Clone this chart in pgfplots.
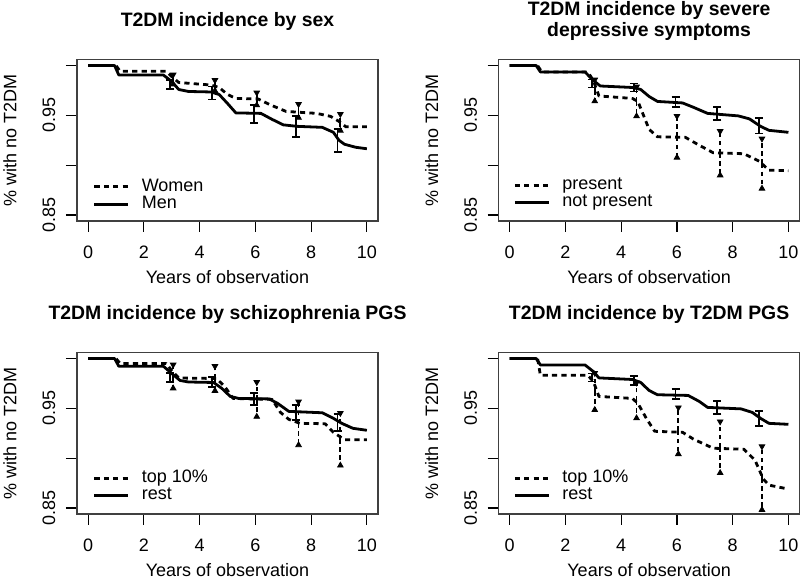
\documentclass[border=0pt]{standalone}
\usepackage{fontspec}
\setmainfont{Liberation Sans}
\usepackage{pgfplots}
\pgfplotsset{compat=1.18}

\pgfplotsset{
  km/.style={
    scale only axis, width=150.5pt, height=80.7pt,
    xmin=-0.4, xmax=10.4, ymin=0.844, ymax=1.006,
    xtick={0,2,4,6,8,10}, xticklabels={0,2,4,6,8,10},
    ytick={0.85,0.90,0.95,1.00}, yticklabels={0.85,,0.95,},
    tick align=outside, tick pos=left, major tick length=5.5pt,
    axis line style={black!75, line width=0.75pt},
    tick style={black, line width=0.6pt},
    font=\fontsize{9}{10}\selectfont,
    xticklabel style={anchor=center, yshift=-10pt},
    yticklabel style={rotate=90, anchor=center, yshift=8.5pt},
    xlabel={Years of observation}, ylabel={\% with no T2DM},
    xlabel style={at={(axis description cs:0.5,-0.346)}, anchor=center},
    ylabel style={at={(axis description cs:-0.2226,0.5)}, anchor=center},
    title style={font=\fontsize{9.7}{10.8}\selectfont\bfseries, at={(0.5,1)},
      anchor=center, yshift=13.3pt, align=center},
    legend style={draw=none, fill=none, anchor=west, inner sep=0pt,
      row sep=-2.8pt, font=\fontsize{9}{10}\selectfont,
      /tikz/every odd column/.append style={column sep=4pt}},
    legend cell align=left,
    legend image code/.code={\draw[#1] (0pt,0pt) -- (17pt,0pt);},
  },
  dsh/.style={black, line width=1.4pt, dash pattern=on 2.6pt off 2.1pt, line join=round},
  sld/.style={black, line width=1.4pt, line join=round},
  ebd/.style={forget plot, draw=none, mark=none,
    error bars/.cd, y dir=both, y explicit,
    error bar style={draw=black, line width=0.9pt, dash pattern=on 2.2pt off 1.8pt},
    error mark=triangle*, error mark options={draw=black, fill=black, solid, mark size=1.6pt, rotate=90}},
  ebs/.style={forget plot, draw=none, mark=none,
    error bars/.cd, y dir=both, y explicit,
    error bar style={draw=black, line width=0.9pt},
    error mark options={draw=black, mark size=2pt, line width=0.9pt, rotate=90}},
}

\begin{document}
\begin{tikzpicture}
\path[use as bounding box] (0,0) rectangle (400pt,289pt);

% sex
\begin{axis}[km, at={(38.5pt,178.5pt)}, anchor=south west,
  title={T2DM incidence by sex},
  legend style={at={(axis cs:0.16,0.8697)}}]
\addplot[dsh] coordinates {(0,1) (1.0,1) (1.15,0.9942) (2.8,0.9942) (3.0,0.989) (3.25,0.983)
  (4.4,0.9805) (4.7,0.978) (5.0,0.971) (5.3,0.967) (6.1,0.9665) (6.5,0.961) (7.1,0.954)
  (8.2,0.952) (8.7,0.949) (9.0,0.944) (9.25,0.9385) (10,0.9385)};
\addlegendentry{Women}
\addplot[sld] coordinates {(0,1) (0.95,1) (1.1,0.9905) (2.7,0.9905) (3.0,0.984) (3.25,0.976)
  (3.6,0.974) (4.4,0.9735) (4.7,0.971) (5.0,0.962) (5.3,0.9525) (6.2,0.952) (6.6,0.946)
  (7.0,0.9405) (7.5,0.939) (8.4,0.938) (8.8,0.933) (9.0,0.925) (9.2,0.921) (9.6,0.918) (10,0.9165)};
\addlegendentry{Men}
\addplot[ebd] coordinates {(3.05,0.986) +- (0,0.004) (4.55,0.980) +- (0,0.0045)
  (6.05,0.9665) +- (0,0.0055) (7.55,0.9545) +- (0,0.006) (9.05,0.943) +- (0,0.0075)};
\addplot[ebs] coordinates {(2.95,0.981) +- (0,0.0045) (4.45,0.9725) +- (0,0.0065)
  (5.95,0.9515) +- (0,0.0088) (7.45,0.939) +- (0,0.0105) (8.95,0.925) +- (0,0.0115)};
\end{axis}

% depressive symptoms
\begin{axis}[km, at={(249.3pt,178.5pt)}, anchor=south west,
  title={T2DM incidence by severe\\depressive symptoms},
  legend style={at={(axis cs:0.12,0.8714)}}]
\addplot[dsh] coordinates {(0,1) (1.0,1) (1.15,0.9936) (2.8,0.9936) (3.0,0.985) (3.2,0.9695)
  (4.4,0.967) (4.6,0.964) (4.8,0.950) (5.0,0.936) (5.3,0.9285) (6.3,0.928) (6.8,0.920)
  (7.3,0.9125) (8.4,0.9115) (8.95,0.904) (9.3,0.895) (10,0.8945)};
\addlegendentry{present}
\addplot[sld] coordinates {(0,1) (0.95,1) (1.1,0.9936) (2.7,0.9936) (3.0,0.985) (3.25,0.9795)
  (4.4,0.978) (4.7,0.976) (5.0,0.969) (5.3,0.964) (6.2,0.9625) (6.6,0.958) (7.1,0.952)
  (8.2,0.9495) (8.6,0.9465) (9.0,0.939) (9.3,0.935) (10,0.933)};
\addlegendentry{not present}
\addplot[ebd] coordinates {(3.05,0.975) +- (0,0.010) (4.55,0.964) +- (0,0.014)
  (6.0,0.9285) +- (0,0.020) (7.55,0.912) +- (0,0.0213) (9.05,0.9016) +- (0,0.0242)};
\addplot[ebs] coordinates {(2.95,0.982) +- (0,0.004) (4.45,0.978) +- (0,0.004)
  (5.95,0.9635) +- (0,0.005) (7.45,0.952) +- (0,0.0067) (8.95,0.9397) +- (0,0.0079)};
\end{axis}

% schizophrenia PGS
\begin{axis}[km, at={(38.5pt,32pt)}, anchor=south west,
  title={T2DM incidence by schizophrenia PGS},
  legend style={at={(axis cs:0.16,0.8714)}}]
\addplot[dsh] coordinates {(0,1) (1.0,1) (1.15,0.995) (2.8,0.995) (3.0,0.988) (3.25,0.9805)
  (4.6,0.980) (4.9,0.972) (5.2,0.960) (6.6,0.959) (6.9,0.946) (7.2,0.939) (7.6,0.935)
  (8.5,0.9346) (8.8,0.926) (9.2,0.9185) (10,0.9185)};
\addlegendentry{top 10\%}
\addplot[sld] coordinates {(0,1) (0.95,1) (1.1,0.9923) (2.7,0.9923) (3.0,0.985) (3.3,0.978)
  (3.6,0.9765) (4.5,0.976) (4.8,0.970) (5.1,0.962) (5.4,0.960) (6.5,0.9595) (6.8,0.955)
  (7.2,0.947) (8.4,0.9456) (8.8,0.940) (9.1,0.935) (9.5,0.930) (10,0.928)};
\addlegendentry{rest}
\addplot[ebd] coordinates {(3.05,0.982) +- (0,0.011) (4.55,0.980) +- (0,0.0115)
  (6.05,0.959) +- (0,0.0165) (7.55,0.935) +- (0,0.021) (9.05,0.919) +- (0,0.0255)};
\addplot[ebs] coordinates {(2.95,0.981) +- (0,0.0045) (4.45,0.9765) +- (0,0.005)
  (5.95,0.9595) +- (0,0.006) (7.45,0.946) +- (0,0.0075) (8.95,0.9355) +- (0,0.0085)};
\end{axis}

% T2DM PGS
\begin{axis}[km, at={(249.3pt,32pt)}, anchor=south west,
  title={T2DM incidence by T2DM PGS},
  legend style={at={(axis cs:0.12,0.8714)}}]
\addplot[dsh] coordinates {(0,1) (1.0,1) (1.1,0.9832) (2.8,0.9832) (3.0,0.977) (3.2,0.962)
  (4.4,0.960) (4.6,0.955) (4.9,0.940) (5.2,0.927) (6.2,0.926) (6.6,0.919) (7.3,0.910)
  (8.4,0.909) (8.8,0.898) (9.1,0.879) (9.3,0.873) (10,0.869)};
\addlegendentry{top 10\%}
\addplot[sld] coordinates {(0,1) (0.95,1) (1.1,0.9936) (2.7,0.9936) (3.0,0.987) (3.2,0.9806)
  (4.4,0.979) (4.7,0.976) (5.0,0.968) (5.3,0.9637) (6.4,0.963) (6.8,0.957) (7.1,0.951)
  (8.3,0.9495) (8.7,0.946) (9.0,0.940) (9.3,0.935) (10,0.934)};
\addlegendentry{rest}
\addplot[ebd] coordinates {(3.05,0.967) +- (0,0.0177) (4.55,0.958) +- (0,0.017)
  (6.05,0.9275) +- (0,0.0225) (7.55,0.911) +- (0,0.025) (9.05,0.880) +- (0,0.031)};
\addplot[ebs] coordinates {(2.95,0.981) +- (0,0.004) (4.45,0.978) +- (0,0.0045)
  (5.95,0.9645) +- (0,0.005) (7.45,0.951) +- (0,0.0065) (8.95,0.9395) +- (0,0.0075)};
\end{axis}
\end{tikzpicture}
\end{document}
